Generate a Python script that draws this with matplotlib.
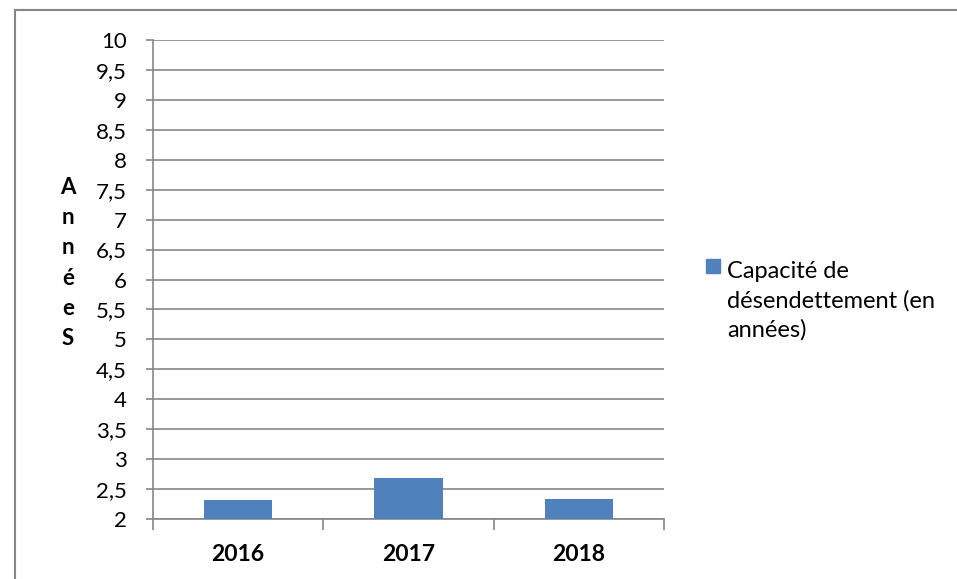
import matplotlib.pyplot as plt
from matplotlib.patches import Rectangle

plt.rcParams["font.family"] = ["Lato", "DejaVu Sans"]

years = ["2016", "2017", "2018"]
values = [2.31, 2.69, 2.33]
series_name = "Capacité de\ndésendettement (en\nannées)"
y_label = "Années"
y_ticks = [2, 2.5, 3, 3.5, 4, 4.5, 5, 5.5, 6, 6.5, 7, 7.5, 8, 8.5, 9, 9.5, 10]

bar_color = "#4F81BD"
grid_color = "#868686"

fig = plt.figure(figsize=(9.57, 5.79), dpi=100)
ax = fig.add_axes([153 / 957, 1 - 519 / 579, (664 - 153) / 957, (519 - 40) / 579])

x = list(range(len(years)))
bars = ax.bar(x, values, width=0.4, color=bar_color, zorder=3)

ax.set_xlim(-0.5, len(years) - 0.5)
ax.set_ylim(2, 10)
ax.set_yticks(y_ticks)
ax.set_yticklabels([f"{v:g}".replace(".", ",") for v in y_ticks], fontsize=16)
ax.yaxis.grid(True, color=grid_color, linewidth=1.2, zorder=0)

# ticks at the category boundaries, labels centered under the bars
ax.set_xticks([i - 0.5 for i in range(len(years) + 1)])
ax.set_xticklabels([])
ax.set_xticks(x, minor=True)
ax.set_xticklabels(years, minor=True, fontsize=16.5, fontweight="bold")
ax.tick_params(axis="x", which="major", length=8, width=1.2, color=grid_color, direction="out")
ax.tick_params(axis="x", which="minor", length=0, pad=18)
ax.tick_params(axis="y", length=5, width=1.2, color=grid_color, pad=14)

for side in ["top", "right"]:
    ax.spines[side].set_visible(False)
for side in ["left", "bottom"]:
    ax.spines[side].set_color(grid_color)
    ax.spines[side].set_linewidth(1.2)

# letters of the axis title stacked one per line
fig.text(68 / 957, 1 - 263 / 579, "\n".join(y_label[:-1] + y_label[-1].upper()),
         ha="center", va="center", fontsize=16, fontweight="bold", linespacing=1.53)

# legend: square marker next to the first line of the label
fig.patches.append(Rectangle((706 / 957, 1 - 273 / 579), 14 / 957, 14 / 579,
                             transform=fig.transFigure, color=bar_color))
fig.text(727 / 957, 1 - 337 / 579, series_name, ha="left", va="baseline",
         fontsize=17, linespacing=1.45)

# chart border (partly cut by the picture edge)
fig.patches.append(Rectangle((15 / 957, -0.1), 1.2, 1 - 10 / 579 + 0.1, transform=fig.transFigure,
                             fill=False, edgecolor=grid_color, linewidth=1.5))

fig.savefig("out.png", dpi=100)
